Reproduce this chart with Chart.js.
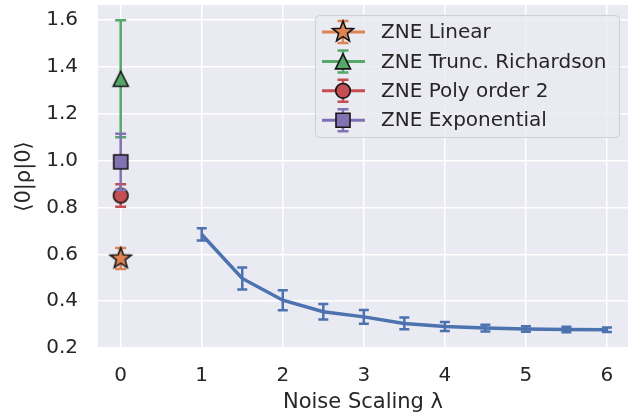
<!DOCTYPE html>
<html>
<head>
<meta charset="utf-8">
<script src="https://cdn.jsdelivr.net/npm/chart.js@4.4.1/dist/chart.umd.min.js"></script>
<style>
  html, body { margin: 0; padding: 0; background: #fff; }
  canvas { display: block; }
</style>
</head>
<body>
<canvas id="chart" width="641" height="417"></canvas>
<script>
// Unmitigated expectation values vs noise scaling
const noiseScales = [1, 1.5, 2, 2.5, 3, 3.5, 4, 4.5, 5, 5.5, 6];
const expectation = [0.685, 0.497, 0.404, 0.355, 0.333, 0.305, 0.292, 0.285, 0.281, 0.279, 0.278];
const expectationErr = [0.026, 0.047, 0.043, 0.033, 0.029, 0.025, 0.019, 0.014, 0.012, 0.012, 0.010];

// Zero-noise extrapolations (all at lambda = 0)
const zneLabels = ["ZNE Linear", "ZNE Trunc. Richardson", "ZNE Poly order 2", "ZNE Exponential"];
const zneValues = [0.582, 1.35, 0.851, 0.995];
const zneErrors = [0.045, 0.25, 0.048, 0.12];
const zneColors = ["#DD8452", "#55A868", "#C44E52", "#8172B3"];
const zneMarkers = ["star", "triangle", "circle", "square"];

// Tick labels
const xTicks = [0, 1, 2, 3, 4, 5, 6];
const yTicks = [0.2, 0.4, 0.6, 0.8, 1.0, 1.2, 1.4, 1.6];

const FONT = "'DejaVu Sans', sans-serif";
const TEXT = "#262626";

// marker shapes, roughly matplotlib's *, ^, o, s
function traceMarker(ctx, kind, x, y) {
  ctx.beginPath();
  if (kind === "star") {
    for (let i = 0; i < 10; i++) {
      const r = i % 2 === 0 ? 11 : 4.6;
      const a = -Math.PI / 2 + i * Math.PI / 5;
      const px = x + r * Math.cos(a), py = y + r * Math.sin(a);
      if (i === 0) ctx.moveTo(px, py); else ctx.lineTo(px, py);
    }
  } else if (kind === "triangle") {
    ctx.moveTo(x, y - 7.5);
    ctx.lineTo(x + 7.5, y + 7.5);
    ctx.lineTo(x - 7.5, y + 7.5);
  } else if (kind === "circle") {
    ctx.arc(x, y, 7.3, 0, Math.PI * 2);
  } else {
    ctx.rect(x - 7, y - 7, 14, 14);
  }
  ctx.closePath();
}

function drawMarker(ctx, kind, color, x, y) {
  ctx.save();
  traceMarker(ctx, kind, x, y);
  ctx.fillStyle = color;
  ctx.fill();
  ctx.lineWidth = 1.6;
  ctx.lineJoin = "miter";
  ctx.strokeStyle = "#141414";
  ctx.stroke();
  ctx.restore();
}

function markerCanvas(kind, color) {
  const c = document.createElement("canvas");
  c.width = 30;
  c.height = 30;
  drawMarker(c.getContext("2d"), kind, color, 15, 15);
  return c;
}

function drawErrorBar(ctx, x, yTop, yBot, half, color, lw) {
  ctx.save();
  ctx.strokeStyle = color;
  ctx.lineWidth = lw;
  ctx.lineCap = "butt";
  ctx.beginPath();
  ctx.moveTo(x, yTop);
  ctx.lineTo(x, yBot);
  ctx.moveTo(x - half, yTop);
  ctx.lineTo(x + half, yTop);
  ctx.moveTo(x - half, yBot);
  ctx.lineTo(x + half, yBot);
  ctx.stroke();
  ctx.restore();
}

// Grey seaborn-like plot background
const plotBackground = {
  id: "plotBackground",
  beforeDraw(chart) {
    const { ctx, chartArea: a } = chart;
    ctx.save();
    ctx.fillStyle = "#EAEAF2";
    ctx.fillRect(a.left, a.top, a.right - a.left, a.bottom - a.top);
    ctx.restore();
  }
};

// Error bars, drawn just before each dataset's own line/markers
const errorBars = {
  id: "errorBars",
  beforeDatasetDraw(chart, args) {
    const ds = chart.data.datasets[args.index];
    if (!ds.errors) return;
    const xs = chart.scales.x, ys = chart.scales.y;
    ds.data.forEach((p, i) => {
      const px = xs.getPixelForValue(p.x);
      const top = ys.getPixelForValue(p.y + ds.errors[i]);
      const bot = ys.getPixelForValue(p.y - ds.errors[i]);
      drawErrorBar(chart.ctx, px, top, bot, ds.capHalf, ds.errColor, ds.errWidth);
    });
  }
};

// Legend with errorbar handles
const zneLegend = {
  id: "zneLegend",
  afterDraw(chart) {
    const ctx = chart.ctx;
    const a = chart.chartArea;
    const w = 304, h = 122;
    const bx = a.right - 9 - w, by = a.top + 10;

    ctx.save();
    ctx.beginPath();
    ctx.roundRect(bx + 0.5, by + 0.5, w, h, 4);
    ctx.fillStyle = "rgba(234,234,242,0.8)";
    ctx.fill();
    ctx.strokeStyle = "#cfcfd6";
    ctx.lineWidth = 1;
    ctx.stroke();

    ctx.font = "20px " + FONT;
    ctx.fillStyle = TEXT;
    ctx.textBaseline = "middle";
    ctx.textAlign = "left";
    zneLabels.forEach((label, i) => {
      const cy = by + 17 + i * 29.4;
      const mx = bx + 28;
      ctx.strokeStyle = zneColors[i];
      ctx.lineWidth = 3;
      ctx.beginPath();
      ctx.moveTo(bx + 7, cy);
      ctx.lineTo(bx + 50, cy);
      ctx.stroke();
      drawErrorBar(ctx, mx, cy - 11, cy + 11, 5.5, zneColors[i], 2.5);
      drawMarker(ctx, zneMarkers[i], zneColors[i], mx, cy);
      ctx.fillStyle = TEXT;
      ctx.fillText(label, bx + 66, cy + 1);
    });
    ctx.restore();
  }
};

const datasets = [{
  label: "raw",
  data: noiseScales.map((x, i) => ({ x: x, y: expectation[i] })),
  borderColor: "#4C72B0",
  borderWidth: 3.5,
  pointRadius: 0,
  fill: false,
  tension: 0,
  errors: expectationErr,
  errColor: "#4C72B0",
  errWidth: 2.5,
  capHalf: 5,
  order: 5
}];

zneLabels.forEach((label, i) => {
  datasets.push({
    label: label,
    data: [{ x: 0, y: zneValues[i] }],
    showLine: false,
    pointStyle: markerCanvas(zneMarkers[i], zneColors[i]),
    pointRadius: 10,
    errors: [zneErrors[i]],
    errColor: zneColors[i],
    errWidth: 2.5,
    capHalf: 5.5,
    order: 4 - i
  });
});

new Chart(document.getElementById("chart"), {
  type: "line",
  data: { datasets: datasets },
  options: {
    responsive: false,
    animation: false,
    layout: { autoPadding: false, padding: { top: 5, right: 13, left: 0, bottom: 0 } },
    plugins: {
      legend: { display: false },
      tooltip: { enabled: false }
    },
    scales: {
      x: {
        type: "linear",
        min: -0.28,
        max: 6.26,
        afterBuildTicks(scale) { scale.ticks = xTicks.map(v => ({ value: v })); },
        afterFit(scale) {
          scale.height = 69;
          scale.paddingLeft = 0;
          scale.paddingRight = 0;
        },
        grid: { color: "#ffffff", lineWidth: 1.5, drawTicks: false },
        border: { display: false },
        ticks: {
          padding: 16,
          color: TEXT,
          font: { family: FONT, size: 20 },
          maxRotation: 0,
          callback: v => String(v)
        },
        title: {
          display: true,
          text: "Noise Scaling λ",
          color: TEXT,
          font: { family: FONT, size: 21 },
          padding: { top: 0, bottom: 2 }
        }
      },
      y: {
        type: "linear",
        min: 0.2,
        max: 1.665,
        afterBuildTicks(scale) { scale.ticks = yTicks.map(v => ({ value: v })); },
        afterFit(scale) {
          scale.width = 98;
          scale.paddingTop = 0;
          scale.paddingBottom = 0;
        },
        grid: { color: "#ffffff", lineWidth: 1.5, drawTicks: false },
        border: { display: false },
        ticks: {
          padding: 20,
          color: TEXT,
          font: { family: FONT, size: 20 },
          callback: v => v.toFixed(1)
        },
        title: {
          display: true,
          text: "⟨0|ρ|0⟩",
          color: TEXT,
          font: { family: FONT, size: 21 },
          padding: { top: 12, bottom: 0 }
        }
      }
    }
  },
  plugins: [plotBackground, errorBars, zneLegend]
});
</script>
</body>
</html>
